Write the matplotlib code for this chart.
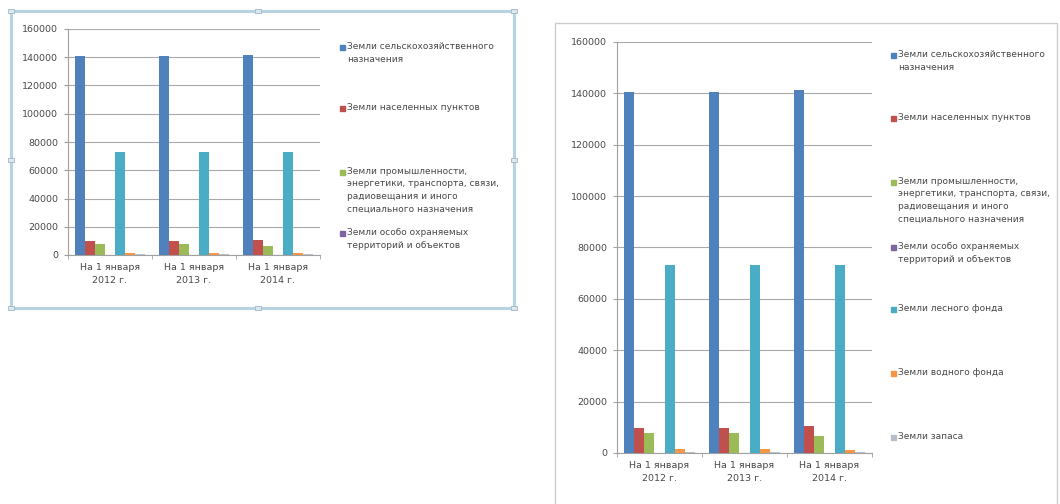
import matplotlib
matplotlib.use("Agg")
import matplotlib.pyplot as plt
from matplotlib.patches import Rectangle
import numpy as np

W, H = 1060, 504

categories = ["На 1 января\n2012 г.", "На 1 января\n2013 г.", "На 1 января\n2014 г."]
series_names = [
    "Земли сельскохозяйственного\nназначения",
    "Земли населенных пунктов",
    "Земли промышленности,\nэнергетики, транспорта, связи,\nрадиовещания и иного\nспециального назначения",
    "Земли особо охраняемых\nтерриторий и объектов",
    "Земли лесного фонда",
    "Земли водного фонда",
    "Земли запаса",
]
agri = [140600, 140700, 141300]
settle = [9800, 9800, 10400]
industry = [7700, 7700, 6500]
protected = [100, 100, 100]
forest = [73200, 73200, 73200]
water = [1400, 1400, 1300]
reserve = [500, 500, 400]
values = [agri, settle, industry, protected, forest, water, reserve]
colors = ["#4F81BD", "#C0504D", "#9BBB59", "#8064A2", "#4BACC6", "#F79646", "#B7BEC9"]
yticks = list(range(0, 160001, 20000))

txt = "#484848"
fs = 6.8
lfs = 6.5

fig = plt.figure(figsize=(W / 100, H / 100), dpi=100)
fig.patch.set_facecolor("white")


def px_axes(x0, y0, x1, y1):
    # pixel box (top-left origin) -> figure axes
    return fig.add_axes([x0 / W, 1 - y1 / H, (x1 - x0) / W, (y1 - y0) / H])


def chart(ax):
    x = np.arange(len(categories))
    bw = 0.118
    for i, (vals, c) in enumerate(zip(values, colors)):
        ax.bar(x + (i - 3) * bw, vals, bw, color=c, zorder=3)
    ax.set_xlim(-0.5, len(categories) - 0.5)
    ax.set_ylim(0, 160000)
    ax.set_yticks(yticks)
    ax.set_yticklabels([str(v) for v in yticks], fontsize=fs, color=txt)
    ax.set_xticks(x)
    ax.set_xticklabels(categories, fontsize=fs, color=txt, linespacing=1.5)
    ax.set_xticks(np.arange(-0.5, len(categories)), minor=True)
    ax.tick_params(axis="x", which="major", length=0, pad=6)
    ax.tick_params(axis="x", which="minor", length=3, color="#a0a0a0")
    ax.tick_params(axis="y", length=3, color="#a0a0a0", pad=4)
    ax.grid(axis="y", color="#a8a8a8", lw=0.8, zorder=0)
    for s in ["top", "right"]:
        ax.spines[s].set_visible(False)
    for s in ["left", "bottom"]:
        ax.spines[s].set_color("#a0a0a0")
        ax.spines[s].set_linewidth(0.8)


def legend(x, ys, n):
    for i in range(n):
        fig.patches.append(Rectangle(((x) / W, 1 - (ys[i] + 3) / H), 5 / W, 5 / H,
                                     transform=fig.transFigure, color=colors[i], figure=fig))
        fig.text((x + 7) / W, 1 - (ys[i] - 5) / H, series_names[i], fontsize=lfs, color=txt,
                 va="top", ha="left", linespacing=1.5)


# left chart (selected, truncated legend)
fig.patches.append(Rectangle((11 / W, 1 - 308 / H), 503 / W, 297 / H, transform=fig.transFigure,
                             fill=False, ec="#b5d3e0", lw=2.2, figure=fig))
for hx, hy in [(258, 11), (258, 308), (11, 160), (514, 160), (11, 11), (514, 11), (11, 308), (514, 308)]:
    fig.patches.append(Rectangle(((hx - 3) / W, 1 - (hy + 2) / H), 6 / W, 4 / H, transform=fig.transFigure,
                                 fc="#dfe8ee", ec="#9fb6c4", lw=0.6, figure=fig))
axl = px_axes(68, 29, 320, 255)
chart(axl)
legend(340, [47, 108, 172, 233], 4)

# right chart (full legend)
fig.patches.append(Rectangle((555 / W, -0.01), 502 / W, 1 - 23 / H + 0.01, transform=fig.transFigure,
                             fill=False, ec="#cccccc", lw=1.0, figure=fig))
axr = px_axes(617, 42, 872, 453)
chart(axr)
legend(891, [55, 118, 182, 247, 309, 373, 437], 7)

fig.savefig("out.png", dpi=100)
